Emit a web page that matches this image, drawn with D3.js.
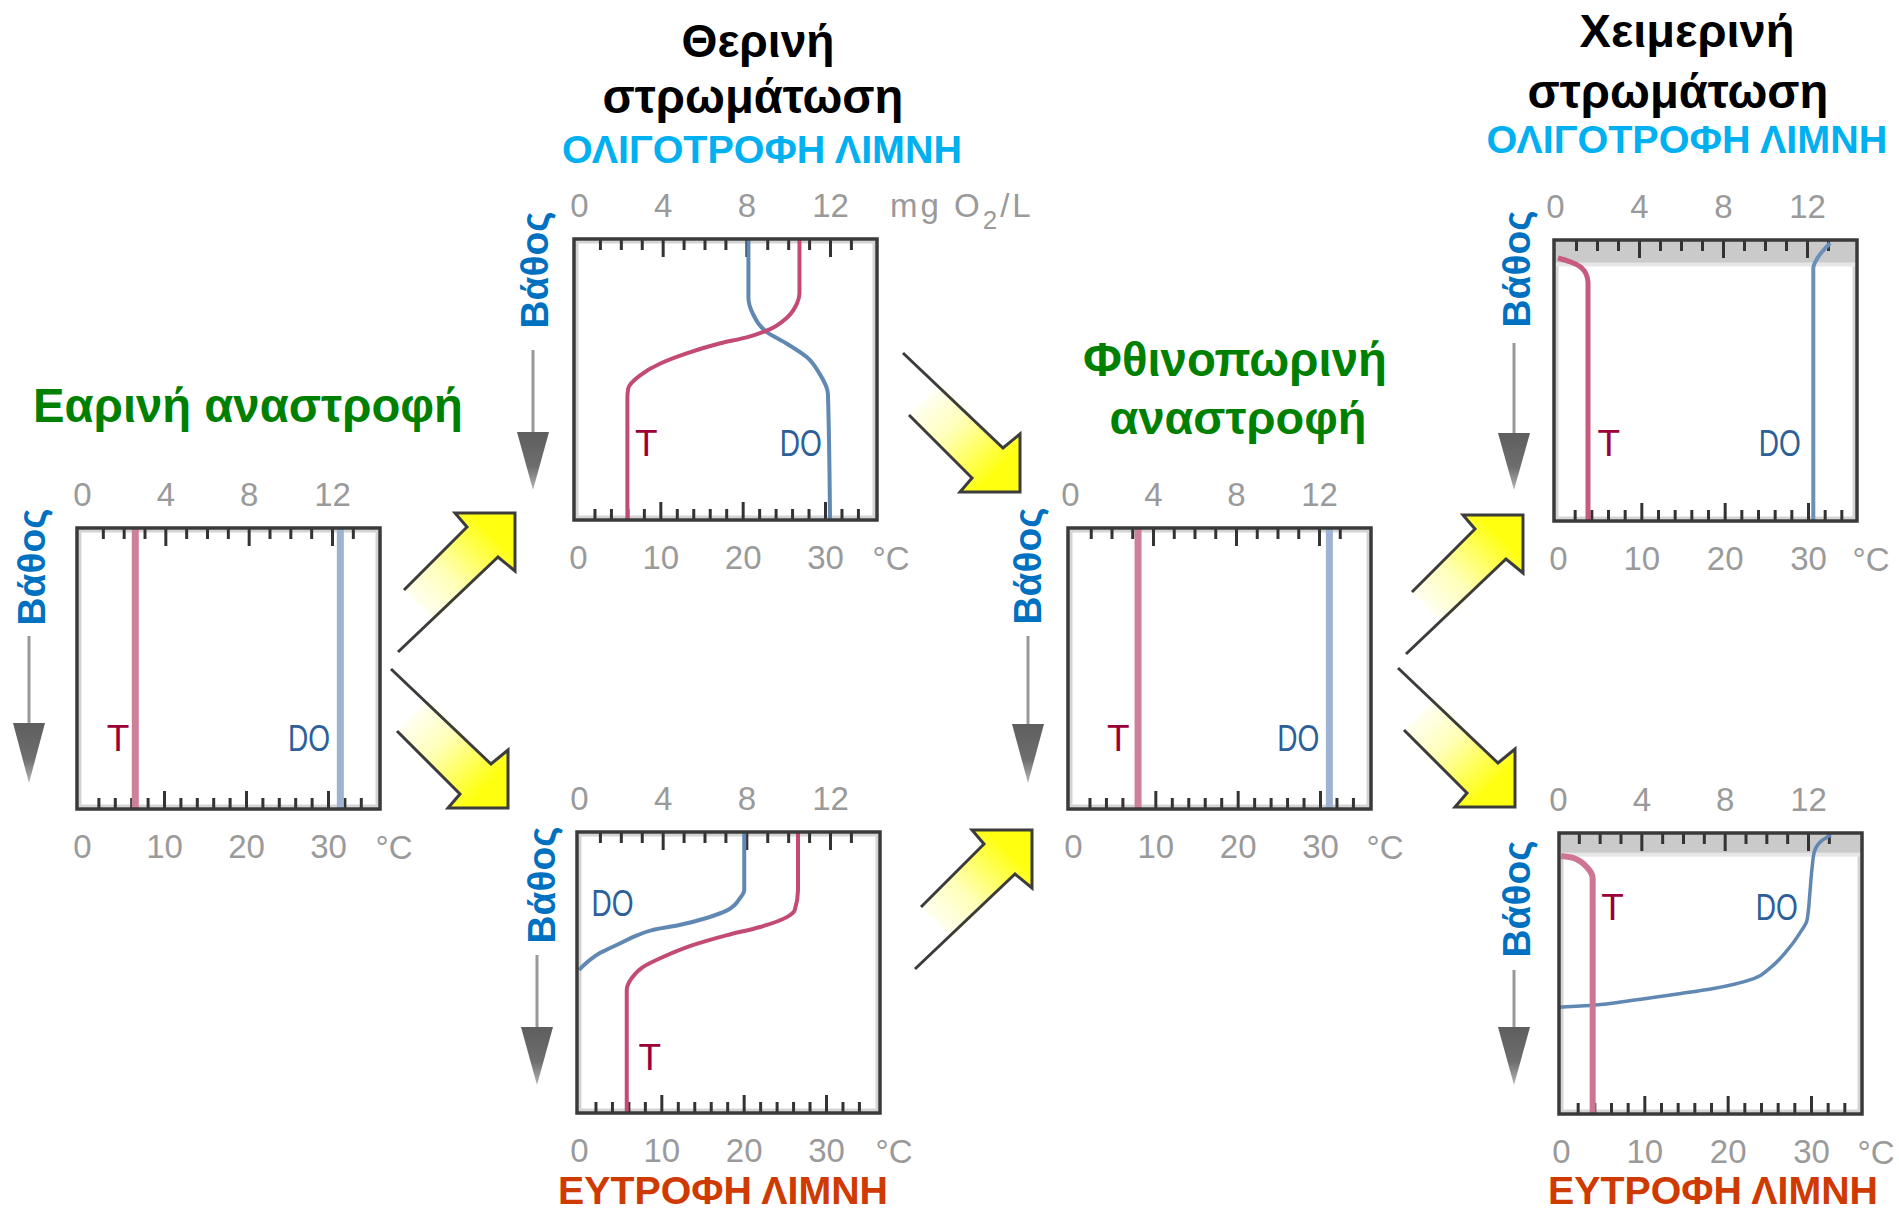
<!DOCTYPE html>
<html><head><meta charset="utf-8">
<script src="https://cdn.jsdelivr.net/npm/d3@7"></script>
<style>body{margin:0;background:#fff}svg{display:block}</style>
</head><body>
<svg id="c" width="1899" height="1212"></svg>
<script>
// ---------------- DATA ----------------
// axis tick labels
const doTickLabels = [0, 4, 8, 12];          // mg O2/L (top axis)
const tempTickLabels = [0, 10, 20, 30];      // °C (bottom axis)
const doMinorTicks = [1, 2, 3, 4, 5, 6, 7, 8, 9, 10, 11, 12, 13];
const tempMinorTicks = [2, 4, 6, 8, 10, 12, 14, 16, 18, 20, 22, 24, 26, 28, 30, 32, 34];

// profiles: [value, depth %]  (T in °C, DO in mg/L)
const springTemp = [[6.5, 0], [6.5, 100]];
const springDO = [[12.4, 0], [12.4, 100]];
const summerOligoTemp = [[26.9, 0], [26.9, 19.3], [26.6, 22.9], [25.4, 27.9], [23.0, 32.5], [20.5, 35.0], [17.3, 37.1], [13.2, 40.7], [10.0, 44.3], [7.5, 48.6], [6.1, 53.2], [6.0, 56.4], [6.0, 100]];
const summerOligoDO = [[8.1, 0], [8.1, 20.7], [8.3, 26.4], [9.0, 33.2], [9.9, 37.1], [10.9, 42.1], [11.5, 47.9], [11.9, 55.0], [12.0, 100]];
const summerEutroTemp = [[26.6, 0], [26.6, 20.6], [26.2, 27.8], [25.3, 30.2], [22.0, 33.8], [18.0, 36.7], [13.9, 40.2], [10.2, 44.5], [7.8, 48.0], [6.4, 52.0], [5.8, 56.2], [5.8, 100]];
const summerEutroDO = [[7.9, 0], [7.9, 20.6], [7.7, 23.5], [7.1, 27.8], [6.1, 30.6], [4.8, 33.1], [3.5, 34.9], [2.8, 36.7], [2.0, 39.5], [1.0, 43.1], [0.0, 49.1]];
const autumnTemp = [[7.9, 0], [7.9, 100]];
const autumnDO = [[12.5, 0], [12.5, 100]];
const winterOligoTemp = [[0, 6.4], [1.5, 7.8], [2.7, 9.6], [3.5, 13.2], [3.6, 15.3], [3.6, 100]];
const winterOligoDO = [[13.1, 1.1], [12.5, 6.4], [12.3, 10.0], [12.3, 100]];
const winterEutroTemp = [[0, 8.2], [1.5, 8.9], [3.2, 12.5], [3.8, 16.1], [3.8, 100]];
const winterEutroDO = [[13.1, 0.7], [12.7, 2.5], [12.3, 6.8], [12.2, 12.1], [12.1, 20.4], [11.95, 31.1], [11.6, 35.7], [11.0, 41.8], [10.2, 47.9], [9.4, 51.8], [7.4, 55.4], [5.9, 57.1], [3.5, 59.6], [1.5, 61.4], [0, 62.0]];
const iceDepth = [8, 7];   // winter oligotrophic, winter eutrophic (% depth)

// texts
const depthLabel = 'Βάθος';
const oligoLabel = 'ΟΛΙΓΟΤΡΟΦΗ ΛΙΜΝΗ';
const eutroLabel = 'ΕΥΤΡΟΦΗ ΛΙΜΝΗ';
const seasonTitles = [
  ['Εαρινή αναστροφή'],
  ['Θερινή', 'στρωμάτωση'],
  ['Φθινοπωρινή', 'αναστροφή'],
  ['Χειμερινή', 'στρωμάτωση']
];

// ---------------- DRAW ----------------
const FONT = '"Liberation Sans", Arial, sans-serif';
const svg = d3.select('#c');
const defs = svg.append('defs');

const yg = defs.append('linearGradient').attr('id', 'yg').attr('gradientUnits', 'userSpaceOnUse')
  .attr('x1', -100).attr('y1', 100).attr('x2', -22).attr('y2', 22);
yg.append('stop').attr('offset', 0).attr('stop-color', '#ffffff');
yg.append('stop').attr('offset', 0.45).attr('stop-color', '#ffffb8');
yg.append('stop').attr('offset', 1).attr('stop-color', '#ffff10');

const gg = defs.append('linearGradient').attr('id', 'gg').attr('x1', 0).attr('y1', 0).attr('x2', 0).attr('y2', 1);
gg.append('stop').attr('offset', 0).attr('stop-color', '#5e5e5e');
gg.append('stop').attr('offset', 0.6).attr('stop-color', '#6e6e6e');
gg.append('stop').attr('offset', 1).attr('stop-color', '#b5b5b5');

function fit(sel, w) {
  const n = sel.node();
  const cur = n.getComputedTextLength();
  const fs = parseFloat(sel.attr('font-size'));
  sel.attr('font-size', fs * w / cur);
}

function title(text, cx, base, w, color, fs) {
  const t = svg.append('text').attr('x', cx).attr('y', base).attr('text-anchor', 'middle')
    .attr('font-family', FONT).attr('font-weight', 'bold').attr('font-size', fs)
    .attr('fill', color).text(text);
  fit(t, w);
}

const BLACK = '#000', GREEN = '#008000', CYAN = '#00b0f0', ORANGE = '#cf3a00';
title(seasonTitles[1][0], 758, 57, 153, BLACK, 44);
title(seasonTitles[1][1], 753, 113, 301, BLACK, 44);
title(oligoLabel, 762, 163, 400, CYAN, 39);
title(seasonTitles[3][0], 1687, 47, 215, BLACK, 44);
title(seasonTitles[3][1], 1678, 108, 301, BLACK, 44);
title(oligoLabel, 1687, 153, 401, CYAN, 39);
title(seasonTitles[0][0], 248, 422, 430, GREEN, 46);
title(seasonTitles[2][0], 1235, 376, 304, GREEN, 46);
title(seasonTitles[2][1], 1238, 434, 257, GREEN, 46);
title(eutroLabel, 723, 1204, 330, ORANGE, 37);
title(eutroLabel, 1713, 1204, 330, ORANGE, 37);

// big yellow arrows
function bigArrow(tx, ty, dir) {
  const g = svg.append('g').attr('transform', `translate(${tx},${ty}) scale(1,${dir})`);
  const fillPts = [[0, 0], [-60, 0], [-48, 14], [-111, 77], [-80, 108], [-17, 44], [0, 58]];
  g.append('path').attr('d', d3.line()(fillPts) + 'Z').attr('fill', 'url(#yg)');
  const outline = [[-111, 77], [-48, 14], [-60, 0], [0, 0], [0, 58], [-17, 44], [-117, 139]];
  g.append('path').attr('d', d3.line()(outline)).attr('fill', 'none')
    .attr('stroke', '#3c3c3c').attr('stroke-width', 3).attr('stroke-linejoin', 'miter');
}
bigArrow(515, 513, 1);
bigArrow(508, 808, -1);
bigArrow(1020, 492, -1);
bigArrow(1032, 830, 1);
bigArrow(1523, 515, 1);
bigArrow(1515, 807, -1);

// depth arrows and labels
function depthArrow(lx, textBase, cy, y1, headTop, tip) {
  const t = svg.append('text').attr('transform', `translate(${textBase},${cy}) rotate(-90)`)
    .attr('text-anchor', 'middle').attr('font-family', FONT).attr('font-weight', 'bold')
    .attr('font-size', 38).attr('fill', '#0070c0').text(depthLabel);
  fit(t, 117);
  svg.append('line').attr('x1', lx).attr('x2', lx).attr('y1', y1).attr('y2', headTop + 2)
    .attr('stroke', '#999').attr('stroke-width', 3);
  svg.append('path').attr('d', d3.line()([[lx - 16, headTop], [lx + 16, headTop], [lx, tip]]) + 'Z')
    .attr('fill', 'url(#gg)');
}
depthArrow(29, 45, 567, 636, 723, 783);
depthArrow(533, 548, 270, 350, 432, 490);
depthArrow(537, 555, 885, 955, 1027, 1085);
depthArrow(1028, 1041, 566, 636, 724, 783);
depthArrow(1514, 1530, 269, 343, 433, 490);
depthArrow(1514, 1530, 899, 970, 1027, 1085);

// panels
const W = 303, H = 281;
const panels = [
  { x: 77, y: 528, doOff: 5, doSpan: 250, tOff: 5, tSpan: 246, temp: springTemp, oxy: springDO, tLab: [4.4, 74.7], oLab: [10.9, 74.7], ice: 0, tW: 7, oW: 7, tC: '#cd8099', oC: '#9db3cf' },
  { x: 574, y: 239, doOff: 5, doSpan: 251, tOff: 4, tSpan: 247, temp: summerOligoTemp, oxy: summerOligoDO, tLab: [8.3, 72.5], oLab: [10.6, 72.5], ice: 0, tW: 4, oW: 4, tC: '#c24a74', oC: '#6088b3', units: true },
  { x: 577, y: 832, doOff: 2, doSpan: 251, tOff: 2, tSpan: 247, temp: summerEutroTemp, oxy: summerEutroDO, tLab: [8.6, 80], oLab: [1.6, 25.3], ice: 0, tW: 4, oW: 4, tC: '#c24a74', oC: '#6088b3' },
  { x: 1068, y: 528, doOff: 2, doSpan: 249, tOff: 5, tSpan: 247, temp: autumnTemp, oxy: autumnDO, tLab: [5.5, 74.7], oLab: [11.0, 74.7], ice: 0, tW: 7, oW: 7, tC: '#cd8099', oC: '#9db3cf' },
  { x: 1554, y: 240, doOff: 1, doSpan: 252, tOff: 4, tSpan: 250, temp: winterOligoTemp, oxy: winterOligoDO, tLab: [6.1, 72.2], oLab: [10.7, 72.2], ice: iceDepth[0], tW: 5, oW: 4, tC: '#c85a80', oC: '#6a8fb8' },
  { x: 1559, y: 833, doOff: -1, doSpan: 250, tOff: 2, tSpan: 250, temp: winterEutroTemp, oxy: winterEutroDO, tLab: [6.2, 26.4], oLab: [10.5, 26.4], ice: iceDepth[1], tW: 6, oW: 3.5, tC: '#cf7594', oC: '#6088b3' }
];

panels.forEach((p, i) => {
  const g = svg.append('g');
  const xDO = d3.scaleLinear().domain([0, 12]).range([p.x + p.doOff, p.x + p.doOff + p.doSpan]);
  const xT = d3.scaleLinear().domain([0, 30]).range([p.x + p.tOff, p.x + p.tOff + p.tSpan]);
  const yD = d3.scaleLinear().domain([0, 100]).range([p.y, p.y + H]);

  // background & ice
  g.append('rect').attr('x', p.x).attr('y', p.y).attr('width', W).attr('height', H).attr('fill', '#fff');
  g.append('rect').attr('x', p.x + 3).attr('y', p.y + 3).attr('width', W - 6).attr('height', H - 6)
    .attr('fill', 'none').attr('stroke', '#d4d4d4').attr('stroke-width', 3);
  if (p.ice) {
    g.append('rect').attr('x', p.x).attr('y', p.y).attr('width', W).attr('height', yD(p.ice) - p.y + 4).attr('fill', '#e6e6e6');
    g.append('rect').attr('x', p.x).attr('y', p.y).attr('width', W).attr('height', yD(p.ice) - p.y).attr('fill', '#cacaca');
  }

  // tick marks through axes
  const styleTicks = (ax) => { ax.select('.domain').remove(); ax.selectAll('text').remove();
    ax.selectAll('line').attr('stroke', '#333').attr('stroke-width', 3); };
  g.append('g').attr('transform', `translate(0,${p.y})`)
    .call(d3.axisBottom(xDO).tickValues(doMinorTicks.filter(v => !doTickLabels.includes(v))).tickSize(11)).call(styleTicks);
  g.append('g').attr('transform', `translate(0,${p.y})`)
    .call(d3.axisBottom(xDO).tickValues(doTickLabels.filter(v => v > 0)).tickSize(18)).call(styleTicks);
  g.append('g').attr('transform', `translate(0,${p.y + H})`)
    .call(d3.axisTop(xT).tickValues(tempMinorTicks.filter(v => !tempTickLabels.includes(v))).tickSize(11)).call(styleTicks);
  g.append('g').attr('transform', `translate(0,${p.y + H})`)
    .call(d3.axisTop(xT).tickValues(tempTickLabels.filter(v => v > 0)).tickSize(18)).call(styleTicks);

  // profiles
  const lineT = d3.line().x(d => xT(d[0])).y(d => yD(d[1])).curve(d3.curveMonotoneY);
  const lineO = d3.line().x(d => xDO(d[0])).y(d => yD(d[1])).curve(d3.curveMonotoneY);
  g.append('path').attr('d', lineO(p.oxy)).attr('fill', 'none').attr('stroke', p.oC).attr('stroke-width', p.oW);
  g.append('path').attr('d', lineT(p.temp)).attr('fill', 'none').attr('stroke', p.tC).attr('stroke-width', p.tW);

  // frame
  g.append('rect').attr('x', p.x).attr('y', p.y).attr('width', W).attr('height', H)
    .attr('fill', 'none').attr('stroke', '#3a3a3a').attr('stroke-width', 3.5);

  // curve labels
  g.append('text').attr('x', xT(p.tLab[0])).attr('y', yD(p.tLab[1]) + 13).attr('text-anchor', 'middle')
    .attr('font-family', FONT).attr('font-size', 37).attr('fill', '#9b0036').text('T');
  g.append('text').attr('x', xDO(p.oLab[0]) - 21).attr('y', yD(p.oLab[1]) + 13)
    .attr('textLength', 42).attr('lengthAdjust', 'spacingAndGlyphs')
    .attr('font-family', FONT).attr('font-size', 37).attr('fill', '#2d5f98').text('DO');

  // axis labels
  const styleLab = (ax) => { ax.select('.domain').remove(); ax.selectAll('line').remove();
    ax.selectAll('text').attr('font-family', FONT).attr('font-size', 33).attr('fill', '#9a9a9a'); };
  g.append('g').attr('transform', `translate(0,${p.y - 22})`)
    .call(d3.axisTop(xDO).tickValues(doTickLabels).tickSize(0).tickPadding(0)).call(styleLab);
  g.append('g').attr('transform', `translate(0,${p.y + H + 26})`)
    .call(d3.axisBottom(xT).tickValues(tempTickLabels).tickSize(0).tickPadding(0)).call(styleLab);
  g.append('text').attr('x', p.x + 317).attr('y', p.y + H + 50).attr('text-anchor', 'middle')
    .attr('font-family', FONT).attr('font-size', 33).attr('fill', '#9a9a9a').text('°C');

  if (p.units) {
    const u = g.append('text').attr('x', p.x + 316).attr('y', p.y - 22)
      .attr('font-family', FONT).attr('font-size', 33).attr('fill', '#9a9a9a').attr('letter-spacing', 3);
    u.append('tspan').text('mg O');
    u.append('tspan').attr('dy', 12).attr('font-size', 26).text('2');
    u.append('tspan').attr('dy', -12).text('/L');
  }
});
</script>
</body></html>
